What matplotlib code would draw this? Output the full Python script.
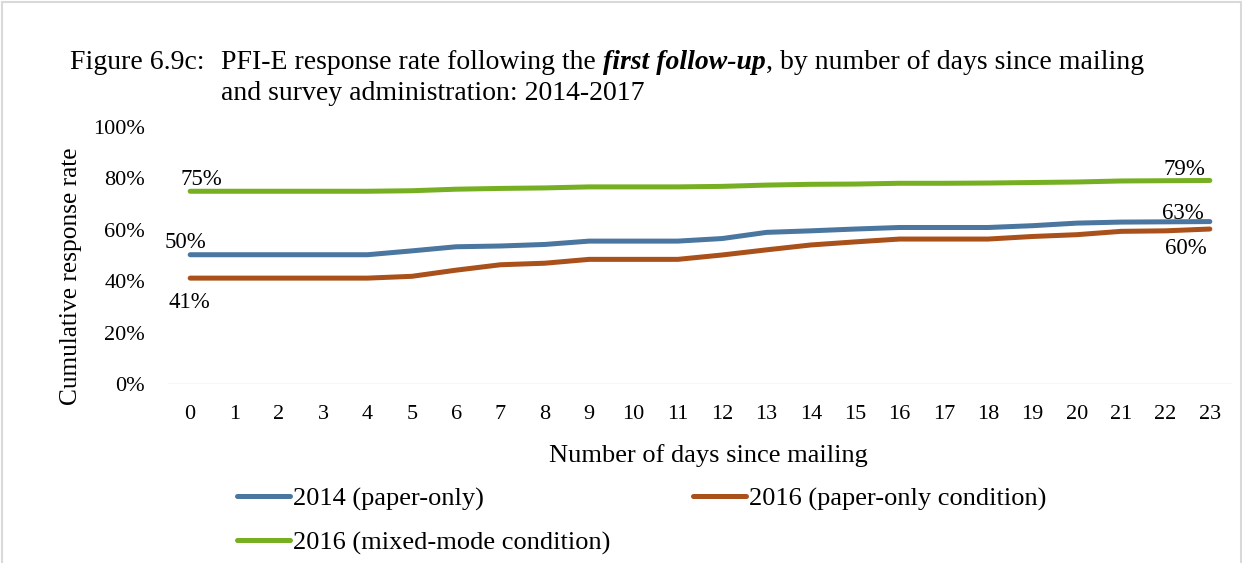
import matplotlib
matplotlib.use('Agg')
import matplotlib.pyplot as plt
from matplotlib.lines import Line2D

# ---------------- data ----------------
days = list(range(24))
paper_2014 = [50.3, 50.3, 50.3, 50.3, 50.3, 51.8, 53.4, 53.7, 54.3, 55.6, 55.6, 55.6,
              56.6, 59.0, 59.6, 60.3, 60.9, 60.9, 60.9, 61.6, 62.6, 63.0, 63.1, 63.2]
paper_2016 = [41.2, 41.2, 41.2, 41.2, 41.2, 41.9, 44.3, 46.4, 47.0, 48.5, 48.5, 48.5,
              50.2, 52.2, 54.1, 55.3, 56.4, 56.4, 56.4, 57.4, 58.1, 59.4, 59.6, 60.3]
mixed_2016 = [75.0, 75.0, 75.0, 75.0, 75.0, 75.2, 75.8, 76.1, 76.3, 76.7, 76.7, 76.7,
              76.9, 77.4, 77.7, 77.8, 78.1, 78.1, 78.2, 78.4, 78.6, 79.0, 79.1, 79.2]
series_names = ['2014 (paper-only)', '2016 (paper-only condition)', '2016 (mixed-mode condition)']
y_ticks = [0, 20, 40, 60, 80, 100]
title_prefix = 'Figure 6.9c:'
title_a = 'PFI-E response rate following the'
title_b = 'first follow-up'
title_c = ', by number of days since mailing'
title_line2 = 'and survey administration: 2014-2017'
x_label = 'Number of days since mailing'
y_label = 'Cumulative response rate'

# ---------------- style ----------------
plt.rcParams['font.family'] = ['Liberation Serif', 'DejaVu Serif']
W, H = 1242, 563
BLUE, BROWN, GREEN = '#4A76A0', '#AA501A', '#76B022'

fig = plt.figure(figsize=(W / 100, H / 100), dpi=100)

def fx(px):
    return px / W

def fy(py):
    return 1 - py / H

ax = fig.add_axes([fx(168), fy(384), (1232 - 168) / W, (384 - 127) / H])
ax.set_xlim(-0.5, 23.5)
ax.set_ylim(0, 100)

lw = 3.6
l_blue, = ax.plot(days, paper_2014, color=BLUE, lw=lw, solid_capstyle='round', solid_joinstyle='round')
l_brown, = ax.plot(days, paper_2016, color=BROWN, lw=lw, solid_capstyle='round', solid_joinstyle='round')
l_green, = ax.plot(days, mixed_2016, color=GREEN, lw=lw, solid_capstyle='round', solid_joinstyle='round')

for s in ax.spines.values():
    s.set_visible(False)
ax.axhline(0, color='#D9D9D9', lw=1.0, zorder=0)

ax.set_xticks(days)
ax.set_xticklabels([str(d) for d in days], fontsize=16)
ax.set_yticks(y_ticks)
ax.set_yticklabels([f'{t}%' for t in y_ticks], fontsize=16)
ax.tick_params(axis='both', length=0)
ax.tick_params(axis='y', pad=16.5)
ax.tick_params(axis='x', pad=15)

# data labels
def lab(x, y, dx, dy):
    ax.annotate(f'{round(y)}%', (x, y), xytext=(dx, dy), textcoords='offset pixels',
                ha='center', va='baseline', fontsize=16.5)

lab(days[0], mixed_2016[0], 11, 6)
lab(days[0], paper_2014[0], -5, 7)
lab(days[0], paper_2016[0], -1, -30)
lab(days[-1], mixed_2016[-1], -25, 5)
lab(days[-1], paper_2014[-1], -27, 3)
lab(days[-1], paper_2016[-1], -24, -25)

# axis titles
fig.text(fx(708), fy(462), x_label, ha='center', va='baseline', fontsize=19)
fig.text(fx(71), fy(276), y_label, ha='center', va='center', rotation=90, fontsize=18.3)

# title (mixed styles)
fig.canvas.draw()
r = fig.canvas.get_renderer()
TFS = 20
fig.text(fx(70), fy(69), title_prefix, fontsize=TFS, va='baseline')
ta = fig.text(fx(221), fy(69), title_a, fontsize=TFS, va='baseline')
sp = fig.text(0, 0, 'x x', fontsize=TFS)
sp2 = fig.text(0, 0, 'xx', fontsize=TFS)
space_w = sp.get_window_extent(r).width - sp2.get_window_extent(r).width
sp.remove(); sp2.remove()
bba = ta.get_window_extent(r)
tb = fig.text((bba.x1 + space_w) / W, fy(69), title_b, fontsize=TFS, va='baseline',
              fontweight='bold', fontstyle='italic')
bbb = tb.get_window_extent(r)
fig.text(bbb.x1 / W, fy(69), title_c, fontsize=TFS, va='baseline')
fig.text(fx(221), fy(100), title_line2, fontsize=TFS, va='baseline')

# legend
fig.legend(handles=[l_blue, l_green, l_brown],
           labels=[series_names[0], series_names[2], series_names[1]],
           ncol=2, loc='upper left', bbox_to_anchor=(fx(237), fy(487)),
           frameon=False, fontsize=19, handlelength=2.0, handletextpad=0.12,
           columnspacing=3.15, labelspacing=0.75, borderpad=0, borderaxespad=0)

# light grey border
bc = '#D9D9D9'
fig.add_artist(Line2D([fx(1.5), fx(1.5)], [0, fy(1.5)], color=bc, lw=1.5))
fig.add_artist(Line2D([fx(1.5), fx(1240.5)], [fy(1.5), fy(1.5)], color=bc, lw=1.5))
fig.add_artist(Line2D([fx(1240.5), fx(1240.5)], [0, fy(1.5)], color=bc, lw=1.5))

fig.savefig('out.png', dpi=100)
